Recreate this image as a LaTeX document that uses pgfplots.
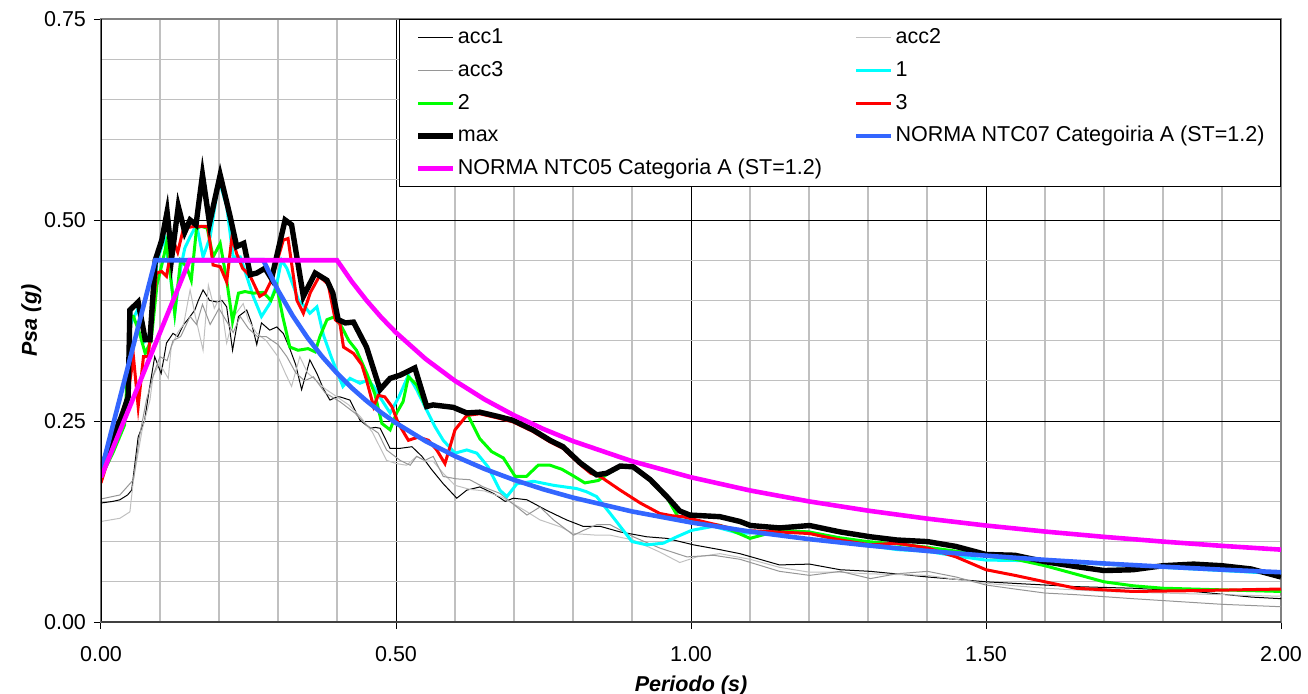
\documentclass[border=0pt]{standalone}
\usepackage{fontspec}
\setmainfont{Liberation Sans}
\usepackage{pgfplots}
\pgfplotsset{compat=1.18}
\definecolor{ccyan}{HTML}{00FFFF}
\definecolor{cgreen}{HTML}{00FF00}
\definecolor{cred}{HTML}{FF0000}
\definecolor{cmag}{HTML}{FF00FF}
\definecolor{cblue}{HTML}{3366FF}
\definecolor{clgray}{HTML}{C0C0C0}
\definecolor{cgray}{HTML}{969696}
\definecolor{cgrid}{HTML}{C0C0C0}
\begin{document}
\begin{tikzpicture}
\path[use as bounding box] (-50.5bp,-36bp) rectangle (603.5bp,311bp);
\begin{axis}[
  at={(0,0)}, anchor=south west,
  scale only axis, width=590bp, height=301.5bp,
  xmin=0, xmax=2, ymin=0, ymax=0.75,
  xtick={0,0.5,1,1.5,2}, ytick={0,0.25,0.5,0.75},
  minor x tick num=4, minor y tick num=4,
  grid=both,
  major grid style={black, line width=0.5bp},
  minor grid style={cgrid, line width=0.6bp},
  minor tick length=0pt, major tick length=3.5bp,
  tick align=outside, tick pos=left,
  tick style={black, line width=0.5bp},
  axis line style={draw=gray, line width=0.6bp},
  font=\fontsize{10.8}{13}\selectfont,
  ticklabel style={font=\fontsize{10.8}{13}\selectfont},
  /pgf/number format/assume math mode=true,
  xticklabel={\pgfmathprintnumber[fixed,fixed zerofill,precision=2]{\tick}},
  yticklabel={\pgfmathprintnumber[fixed,fixed zerofill,precision=2]{\tick}},
  xticklabel style={yshift=-5bp},
  yticklabel style={xshift=-0.5bp},
  xlabel={\bfseries\itshape Periodo (s)},
  ylabel={\bfseries\itshape Psa (g)},
  xlabel style={at={([yshift=-34.5bp]axis description cs:0.5,0)}, anchor=base},
  ylabel style={at={([xshift=-32bp]axis description cs:0,0.5)}, anchor=base, rotate=0},
  legend columns=2,
  legend cell align=left,
  legend image code/.code={\draw[#1] (0bp,0bp) -- (17.5bp,0bp);},
  legend style={at={(1,1)}, anchor=north east, draw=black, line width=0.5bp, fill=white,
    font=\fontsize{10.8}{13}\selectfont, inner xsep=8bp, inner ysep=4bp,
    nodes={inner sep=0pt, text height=8bp, text depth=2bp},
    row sep=6.4bp,
    /tikz/every odd column/.append style={column sep=1bp},
    /tikz/every even column/.append style={column sep=16bp}},
]
% acc1
\addplot[black, line width=0.5bp] coordinates {
(0,0.148)(0.02,0.150)(0.032,0.152)(0.045,0.158)(0.052,0.164)(0.058,0.20)(0.063,0.23)(0.074,0.251)(0.082,0.29)(0.091,0.33)(0.102,0.309)(0.111,0.347)(0.122,0.359)(0.13,0.355)(0.14,0.37)(0.147,0.376)(0.159,0.388)(0.165,0.40)(0.173,0.413)(0.184,0.40)(0.196,0.398)(0.205,0.40)(0.213,0.392)(0.223,0.338)(0.233,0.38)(0.247,0.388)(0.255,0.372)(0.264,0.345)(0.272,0.372)(0.286,0.363)(0.298,0.367)(0.309,0.359)(0.32,0.34)(0.33,0.32)(0.34,0.289)(0.354,0.326)(0.366,0.309)(0.377,0.29)(0.388,0.276)(0.4,0.28)(0.405,0.28)(0.422,0.276)(0.439,0.251)(0.456,0.241)(0.465,0.242)(0.473,0.241)(0.49,0.216)(0.507,0.216)(0.527,0.218)(0.544,0.206)(0.56,0.19)(0.58,0.172)(0.603,0.154)(0.62,0.164)(0.642,0.168)(0.665,0.16)(0.685,0.15)(0.699,0.154)(0.722,0.152)(0.755,0.139)(0.789,0.127)(0.817,0.119)(0.846,0.119)(0.88,0.112)(0.925,0.106)(0.959,0.104)(1.004,0.096)(1.049,0.09)(1.083,0.085)(1.15,0.071)(1.201,0.072)(1.253,0.065)(1.304,0.063)(1.401,0.056)(1.5,0.05)(1.549,0.048)(1.6,0.046)(1.652,0.044)(1.749,0.042)(1.852,0.038)(1.95,0.031)(2.0,0.029)};
\addlegendentry{acc1}
% acc2
\addplot[clgray, line width=0.5bp] coordinates {
(0,0.125)(0.032,0.129)(0.049,0.137)(0.055,0.177)(0.07,0.24)(0.083,0.276)(0.088,0.305)(0.099,0.322)(0.114,0.303)(0.119,0.342)(0.13,0.36)(0.14,0.37)(0.151,0.413)(0.16,0.38)(0.173,0.338)(0.182,0.419)(0.192,0.39)(0.202,0.405)(0.213,0.347)(0.225,0.38)(0.241,0.396)(0.25,0.375)(0.264,0.359)(0.28,0.35)(0.3,0.33)(0.312,0.31)(0.323,0.293)(0.337,0.33)(0.35,0.31)(0.365,0.3)(0.38,0.29)(0.4,0.28)(0.42,0.27)(0.44,0.255)(0.46,0.236)(0.484,0.201)(0.501,0.197)(0.518,0.195)(0.535,0.206)(0.55,0.2)(0.563,0.2)(0.58,0.185)(0.6,0.17)(0.625,0.165)(0.65,0.163)(0.68,0.155)(0.72,0.138)(0.744,0.127)(0.78,0.118)(0.8,0.11)(0.84,0.108)(0.863,0.108)(0.902,0.102)(0.947,0.087)(0.981,0.074)(1.01,0.081)(1.049,0.085)(1.1,0.078)(1.15,0.068)(1.2,0.062)(1.25,0.062)(1.3,0.06)(1.4,0.058)(1.5,0.048)(1.6,0.042)(1.7,0.038)(1.8,0.036)(1.9,0.034)(2.0,0.032)};
\addlegendentry{acc2}
% acc3
\addplot[cgray, line width=0.5bp] coordinates {
(0,0.153)(0.032,0.158)(0.055,0.177)(0.065,0.23)(0.077,0.276)(0.09,0.31)(0.1,0.33)(0.112,0.325)(0.122,0.35)(0.135,0.355)(0.151,0.38)(0.162,0.37)(0.172,0.395)(0.185,0.37)(0.2,0.39)(0.212,0.375)(0.224,0.36)(0.236,0.38)(0.25,0.365)(0.265,0.355)(0.28,0.355)(0.3,0.345)(0.315,0.33)(0.33,0.31)(0.345,0.3)(0.36,0.305)(0.38,0.285)(0.405,0.274)(0.43,0.26)(0.45,0.245)(0.47,0.235)(0.484,0.214)(0.507,0.201)(0.524,0.195)(0.535,0.206)(0.549,0.201)(0.563,0.206)(0.58,0.181)(0.603,0.178)(0.625,0.177)(0.648,0.168)(0.676,0.16)(0.722,0.133)(0.744,0.143)(0.767,0.127)(0.801,0.108)(0.818,0.114)(0.84,0.121)(0.863,0.121)(0.902,0.106)(0.947,0.092)(0.993,0.081)(1.038,0.083)(1.083,0.078)(1.15,0.063)(1.201,0.058)(1.253,0.063)(1.304,0.054)(1.349,0.06)(1.401,0.063)(1.449,0.056)(1.5,0.046)(1.549,0.041)(1.6,0.036)(1.652,0.034)(1.749,0.029)(1.9,0.022)(2.0,0.019)};
\addlegendentry{acc3}
% 1
\addplot[ccyan, line width=1.5bp] coordinates {
(0,0.19)(0.03,0.24)(0.045,0.27)(0.05,0.37)(0.063,0.39)(0.075,0.35)(0.085,0.36)(0.095,0.45)(0.108,0.477)(0.118,0.43)(0.125,0.384)(0.135,0.44)(0.142,0.465)(0.151,0.479)(0.162,0.494)(0.173,0.454)(0.185,0.479)(0.2,0.55)(0.213,0.517)(0.224,0.454)(0.236,0.454)(0.247,0.43)(0.258,0.405)(0.272,0.38)(0.286,0.396)(0.298,0.421)(0.306,0.45)(0.315,0.44)(0.325,0.42)(0.335,0.40)(0.346,0.392)(0.354,0.384)(0.366,0.392)(0.377,0.357)(0.39,0.33)(0.41,0.293)(0.422,0.303)(0.439,0.297)(0.453,0.301)(0.462,0.293)(0.476,0.276)(0.49,0.26)(0.505,0.28)(0.521,0.307)(0.535,0.289)(0.549,0.268)(0.566,0.243)(0.58,0.226)(0.6,0.21)(0.62,0.214)(0.637,0.21)(0.656,0.193)(0.676,0.164)(0.688,0.156)(0.705,0.172)(0.733,0.175)(0.767,0.17)(0.806,0.166)(0.823,0.162)(0.84,0.156)(0.863,0.135)(0.9,0.1)(0.925,0.096)(0.953,0.098)(0.976,0.106)(1.001,0.114)(1.038,0.119)(1.083,0.11)(1.15,0.113)(1.2,0.112)(1.25,0.1)(1.3,0.095)(1.35,0.09)(1.4,0.088)(1.45,0.082)(1.5,0.077)(1.6,0.076)(1.7,0.072)(1.8,0.068)(1.9,0.064)(2.0,0.06)};
\addlegendentry{1}
% 2
\addplot[cgreen, line width=1.5bp] coordinates {
(0,0.18)(0.02,0.21)(0.04,0.245)(0.05,0.38)(0.055,0.38)(0.065,0.36)(0.075,0.334)(0.085,0.35)(0.095,0.42)(0.105,0.45)(0.111,0.471)(0.118,0.43)(0.125,0.384)(0.135,0.45)(0.145,0.442)(0.153,0.425)(0.162,0.49)(0.17,0.492)(0.18,0.49)(0.19,0.454)(0.202,0.471)(0.213,0.425)(0.223,0.374)(0.233,0.409)(0.244,0.411)(0.258,0.409)(0.275,0.41)(0.288,0.40)(0.298,0.417)(0.308,0.38)(0.32,0.342)(0.334,0.338)(0.351,0.34)(0.363,0.336)(0.371,0.355)(0.383,0.376)(0.397,0.38)(0.408,0.367)(0.42,0.35)(0.433,0.338)(0.45,0.31)(0.464,0.284)(0.476,0.247)(0.49,0.239)(0.501,0.26)(0.512,0.274)(0.521,0.305)(0.535,0.295)(0.549,0.27)(0.6,0.267)(0.62,0.26)(0.642,0.228)(0.662,0.212)(0.682,0.204)(0.702,0.181)(0.721,0.181)(0.741,0.195)(0.761,0.195)(0.781,0.19)(0.8,0.182)(0.82,0.173)(0.843,0.176)(0.86,0.185)(0.88,0.193)(0.902,0.192)(0.931,0.176)(0.959,0.155)(0.981,0.127)(1.0,0.125)(1.05,0.12)(1.1,0.104)(1.15,0.114)(1.2,0.112)(1.25,0.105)(1.3,0.1)(1.35,0.097)(1.4,0.093)(1.45,0.088)(1.5,0.082)(1.55,0.078)(1.6,0.07)(1.65,0.06)(1.7,0.05)(1.75,0.045)(1.8,0.042)(1.9,0.04)(2.0,0.038)};
\addlegendentry{2}
% 3
\addplot[cred, line width=1.5bp] coordinates {
(0,0.173)(0.029,0.243)(0.037,0.255)(0.045,0.28)(0.055,0.33)(0.063,0.268)(0.072,0.33)(0.08,0.33)(0.094,0.434)(0.103,0.436)(0.111,0.43)(0.122,0.475)(0.13,0.46)(0.14,0.49)(0.159,0.492)(0.181,0.492)(0.19,0.444)(0.202,0.442)(0.213,0.423)(0.222,0.479)(0.23,0.458)(0.24,0.44)(0.253,0.43)(0.269,0.405)(0.278,0.409)(0.289,0.425)(0.309,0.475)(0.317,0.477)(0.332,0.40)(0.343,0.384)(0.355,0.41)(0.37,0.43)(0.385,0.42)(0.397,0.376)(0.405,0.371)(0.411,0.342)(0.428,0.334)(0.442,0.32)(0.45,0.301)(0.462,0.268)(0.47,0.282)(0.481,0.28)(0.493,0.268)(0.504,0.247)(0.521,0.226)(0.538,0.23)(0.555,0.226)(0.569,0.214)(0.583,0.197)(0.6,0.239)(0.62,0.257)(0.642,0.259)(0.671,0.254)(0.698,0.249)(0.732,0.237)(0.761,0.224)(0.783,0.216)(0.812,0.196)(0.83,0.185)(0.846,0.181)(0.88,0.164)(0.914,0.148)(0.947,0.135)(0.969,0.132)(0.986,0.131)(1.02,0.125)(1.083,0.114)(1.149,0.112)(1.201,0.11)(1.253,0.102)(1.304,0.096)(1.349,0.098)(1.401,0.092)(1.449,0.081)(1.5,0.065)(1.549,0.058)(1.6,0.05)(1.652,0.042)(1.7,0.04)(1.749,0.038)(1.852,0.039)(2.0,0.041)};
\addlegendentry{3}
% max
\addplot[black, line width=2.7bp] coordinates {
(0,0.19)(0.02,0.23)(0.034,0.254)(0.046,0.28)(0.049,0.388)(0.063,0.398)(0.075,0.351)(0.083,0.351)(0.092,0.45)(0.103,0.475)(0.112,0.51)(0.12,0.454)(0.131,0.517)(0.142,0.485)(0.151,0.5)(0.161,0.494)(0.172,0.556)(0.184,0.496)(0.202,0.556)(0.219,0.504)(0.23,0.467)(0.242,0.471)(0.253,0.432)(0.264,0.434)(0.278,0.44)(0.289,0.427)(0.312,0.5)(0.323,0.494)(0.343,0.405)(0.363,0.434)(0.383,0.425)(0.393,0.409)(0.402,0.376)(0.414,0.372)(0.428,0.373)(0.45,0.342)(0.473,0.289)(0.49,0.303)(0.507,0.307)(0.532,0.316)(0.552,0.268)(0.563,0.27)(0.597,0.267)(0.62,0.26)(0.642,0.261)(0.671,0.256)(0.698,0.251)(0.732,0.239)(0.761,0.226)(0.783,0.218)(0.812,0.198)(0.84,0.183)(0.857,0.185)(0.88,0.194)(0.902,0.193)(0.931,0.177)(0.959,0.156)(0.981,0.138)(0.998,0.133)(1.049,0.131)(1.083,0.125)(1.101,0.12)(1.15,0.117)(1.201,0.12)(1.253,0.112)(1.304,0.106)(1.349,0.102)(1.401,0.1)(1.449,0.094)(1.5,0.084)(1.549,0.083)(1.6,0.075)(1.652,0.069)(1.7,0.064)(1.749,0.065)(1.8,0.07)(1.852,0.072)(1.9,0.07)(1.949,0.066)(2.0,0.056)};
\addlegendentry{max}
% NTC07
\addplot[cblue, line width=2.3bp] coordinates {
(0,0.187)(0.092,0.45)(0.275,0.45)(0.3,0.4125)(0.325,0.3808)(0.35,0.3536)(0.375,0.33)(0.4,0.3094)(0.425,0.2912)(0.45,0.275)(0.475,0.2605)(0.5,0.2475)(0.55,0.225)(0.6,0.2063)(0.65,0.1904)(0.7,0.1768)(0.75,0.165)(0.8,0.1547)(0.9,0.1375)(1.0,0.1238)(1.1,0.1125)(1.2,0.1031)(1.3,0.0952)(1.4,0.0884)(1.5,0.0825)(1.6,0.0773)(1.7,0.0728)(1.8,0.0688)(1.9,0.0651)(2.0,0.0619)};
\addlegendentry{NORMA NTC07 Categoiria A (ST=1.2)}
% NTC05
\addplot[cmag, line width=2.3bp] coordinates {
(0,0.18)(0.15,0.45)(0.4,0.45)(0.425,0.4235)(0.45,0.4)(0.475,0.3789)(0.5,0.36)(0.55,0.3273)(0.6,0.3)(0.65,0.2769)(0.7,0.2571)(0.75,0.24)(0.8,0.225)(0.9,0.2)(1.0,0.18)(1.1,0.1636)(1.2,0.15)(1.3,0.1385)(1.4,0.1286)(1.5,0.12)(1.6,0.1125)(1.7,0.1059)(1.8,0.1)(1.9,0.0947)(2.0,0.09)};
\addlegendentry{NORMA NTC05 Categoria A (ST=1.2)}
\draw[black, line width=0.6bp] (rel axis cs:0,0) -- (rel axis cs:0,1);
\draw[black!75, line width=0.8bp] (rel axis cs:0,0) -- (rel axis cs:1,0);
\end{axis}
\end{tikzpicture}
\end{document}
